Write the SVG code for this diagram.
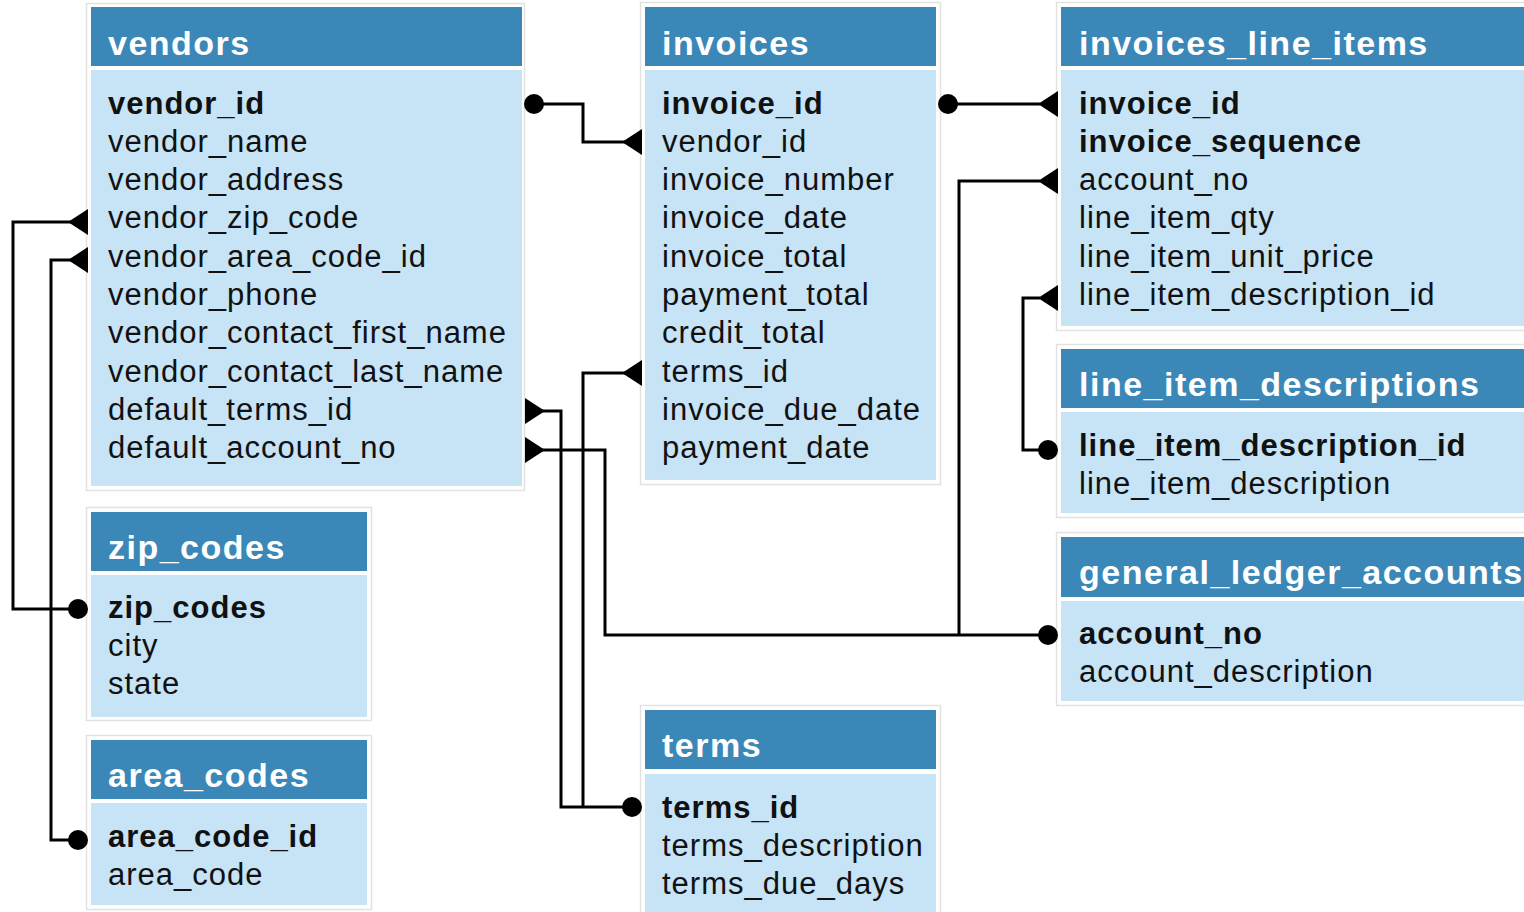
<svg xmlns="http://www.w3.org/2000/svg" width="1524" height="912" viewBox="0 0 1524 912">
  <style>
    .frame { fill: #ffffff; stroke: #e2e2e2; stroke-width: 1.5; }
    .head { fill: #3b87b8; }
    .body { fill: #c7e3f6; }
    .title { font-family: "Liberation Sans", Arial, sans-serif; font-size: 34px; font-weight: bold; letter-spacing: 1.5px; fill: #ffffff; }
    .col { font-family: "Liberation Sans", Arial, sans-serif; font-size: 31px; letter-spacing: 1px; fill: #111111; }
    .key { font-weight: bold; }
    .link { fill: none; stroke: #000000; stroke-width: 3; stroke-linejoin: miter; }
    .dot { fill: #000000; }
    .tri { fill: #000000; }
  </style>
  <rect x="0" y="0" width="1524" height="912" fill="#ffffff"/>

  <!-- vendors -->
  <g id="vendors">
    <rect class="frame" x="86.5" y="3.5" width="438" height="487"/>
    <rect class="head" x="91" y="7" width="431" height="59"/>
    <rect class="body" x="91" y="70" width="431" height="416"/>
    <text class="title" x="108" y="55">vendors</text>
    <text class="col key" x="108" y="114">vendor_id</text>
    <text class="col" x="108" y="152">vendor_name</text>
    <text class="col" x="108" y="190">vendor_address</text>
    <text class="col" x="108" y="228">vendor_zip_code</text>
    <text class="col" x="108" y="267">vendor_area_code_id</text>
    <text class="col" x="108" y="305">vendor_phone</text>
    <text class="col" x="108" y="343">vendor_contact_first_name</text>
    <text class="col" x="108" y="382">vendor_contact_last_name</text>
    <text class="col" x="108" y="420">default_terms_id</text>
    <text class="col" x="108" y="458">default_account_no</text>
  </g>

  <!-- invoices -->
  <g id="invoices">
    <rect class="frame" x="640.5" y="2.5" width="300" height="482"/>
    <rect class="head" x="645" y="7" width="291" height="59"/>
    <rect class="body" x="645" y="70" width="291" height="410"/>
    <text class="title" x="662" y="55">invoices</text>
    <text class="col key" x="662" y="114">invoice_id</text>
    <text class="col" x="662" y="152">vendor_id</text>
    <text class="col" x="662" y="190">invoice_number</text>
    <text class="col" x="662" y="228">invoice_date</text>
    <text class="col" x="662" y="267">invoice_total</text>
    <text class="col" x="662" y="305">payment_total</text>
    <text class="col" x="662" y="343">credit_total</text>
    <text class="col" x="662" y="382">terms_id</text>
    <text class="col" x="662" y="420">invoice_due_date</text>
    <text class="col" x="662" y="458">payment_date</text>
  </g>

  <!-- invoices_line_items -->
  <g id="invoices_line_items">
    <rect class="frame" x="1056.5" y="2.5" width="480" height="328"/>
    <rect class="head" x="1061" y="7" width="463" height="59"/>
    <rect class="body" x="1061" y="70" width="463" height="256"/>
    <text class="title" x="1079" y="55">invoices_line_items</text>
    <text class="col key" x="1079" y="114">invoice_id</text>
    <text class="col key" x="1079" y="152">invoice_sequence</text>
    <text class="col" x="1079" y="190">account_no</text>
    <text class="col" x="1079" y="228">line_item_qty</text>
    <text class="col" x="1079" y="267">line_item_unit_price</text>
    <text class="col" x="1079" y="305">line_item_description_id</text>
  </g>

  <!-- line_item_descriptions -->
  <g id="line_item_descriptions">
    <rect class="frame" x="1056.5" y="344.5" width="480" height="173"/>
    <rect class="head" x="1061" y="349" width="463" height="59"/>
    <rect class="body" x="1061" y="412" width="463" height="101"/>
    <text class="title" x="1079" y="396">line_item_descriptions</text>
    <text class="col key" x="1079" y="456">line_item_description_id</text>
    <text class="col" x="1079" y="494">line_item_description</text>
  </g>

  <!-- general_ledger_accounts -->
  <g id="general_ledger_accounts">
    <rect class="frame" x="1056.5" y="532.5" width="480" height="173"/>
    <rect class="head" x="1061" y="537" width="463" height="60"/>
    <rect class="body" x="1061" y="601" width="463" height="100"/>
    <text class="title" x="1079" y="584">general_ledger_accounts</text>
    <text class="col key" x="1079" y="644">account_no</text>
    <text class="col" x="1079" y="682">account_description</text>
  </g>

  <!-- zip_codes -->
  <g id="zip_codes">
    <rect class="frame" x="86.5" y="507.5" width="285" height="213"/>
    <rect class="head" x="91" y="512" width="276" height="59"/>
    <rect class="body" x="91" y="575" width="276" height="142"/>
    <text class="title" x="108" y="559">zip_codes</text>
    <text class="col key" x="108" y="618">zip_codes</text>
    <text class="col" x="108" y="656">city</text>
    <text class="col" x="108" y="694">state</text>
  </g>

  <!-- area_codes -->
  <g id="area_codes">
    <rect class="frame" x="86.5" y="735.5" width="285" height="174"/>
    <rect class="head" x="91" y="740" width="276" height="59"/>
    <rect class="body" x="91" y="803" width="276" height="102"/>
    <text class="title" x="108" y="787">area_codes</text>
    <text class="col key" x="108" y="847">area_code_id</text>
    <text class="col" x="108" y="885">area_code</text>
  </g>

  <!-- terms -->
  <g id="terms">
    <rect class="frame" x="640.5" y="705.5" width="300" height="220"/>
    <rect class="head" x="645" y="710" width="291" height="59"/>
    <rect class="body" x="645" y="774" width="291" height="150"/>
    <text class="title" x="662" y="757">terms</text>
    <text class="col key" x="662" y="818">terms_id</text>
    <text class="col" x="662" y="856">terms_description</text>
    <text class="col" x="662" y="894">terms_due_days</text>
  </g>

  <!-- relationships -->
  <g id="connectors">
    <!-- vendors.vendor_id to invoices.vendor_id -->
    <polyline class="link" points="534,104 583,104 583,142 625,142"/>
    <circle class="dot" cx="534" cy="104" r="10"/>
    <polygon class="tri" points="622,142 642,129 642,155"/>

    <!-- invoices.invoice_id to invoices_line_items.invoice_id -->
    <polyline class="link" points="948,104 1040,104"/>
    <circle class="dot" cx="948" cy="104" r="10"/>
    <polygon class="tri" points="1038,104 1058,91 1058,117"/>

    <!-- general_ledger_accounts.account_no to invoices_line_items.account_no -->
    <polyline class="link" points="1040,181 959,181 959,635"/>
    <polygon class="tri" points="1038,181 1058,168 1058,194"/>

    <!-- general_ledger_accounts.account_no to vendors.default_account_no -->
    <polyline class="link" points="542,450 605,450 605,635 1048,635"/>
    <polygon class="tri" points="545,450 525,437 525,463"/>
    <circle class="dot" cx="1048" cy="635" r="10"/>

    <!-- terms.terms_id to vendors.default_terms_id -->
    <polyline class="link" points="542,411 561,411 561,807 632,807"/>
    <polygon class="tri" points="545,411 525,398 525,424"/>

    <!-- terms.terms_id to invoices.terms_id -->
    <polyline class="link" points="625,373 583,373 583,807"/>
    <polygon class="tri" points="622,373 642,360 642,386"/>
    <circle class="dot" cx="632" cy="807" r="10"/>

    <!-- zip_codes.zip_codes to vendors.vendor_zip_code -->
    <polyline class="link" points="71,222 13,222 13,609 78,609"/>
    <polygon class="tri" points="68,222 88,209 88,235"/>
    <circle class="dot" cx="78" cy="609" r="10"/>

    <!-- area_codes.area_code_id to vendors.vendor_area_code_id -->
    <polyline class="link" points="71,260 51,260 51,840 78,840"/>
    <polygon class="tri" points="68,260 88,247 88,273"/>
    <circle class="dot" cx="78" cy="840" r="10"/>

    <!-- line_item_descriptions.line_item_description_id to invoices_line_items.line_item_description_id -->
    <polyline class="link" points="1040,298 1023,298 1023,450 1048,450"/>
    <polygon class="tri" points="1038,298 1058,285 1058,311"/>
    <circle class="dot" cx="1048" cy="450" r="10"/>
  </g>
</svg>
